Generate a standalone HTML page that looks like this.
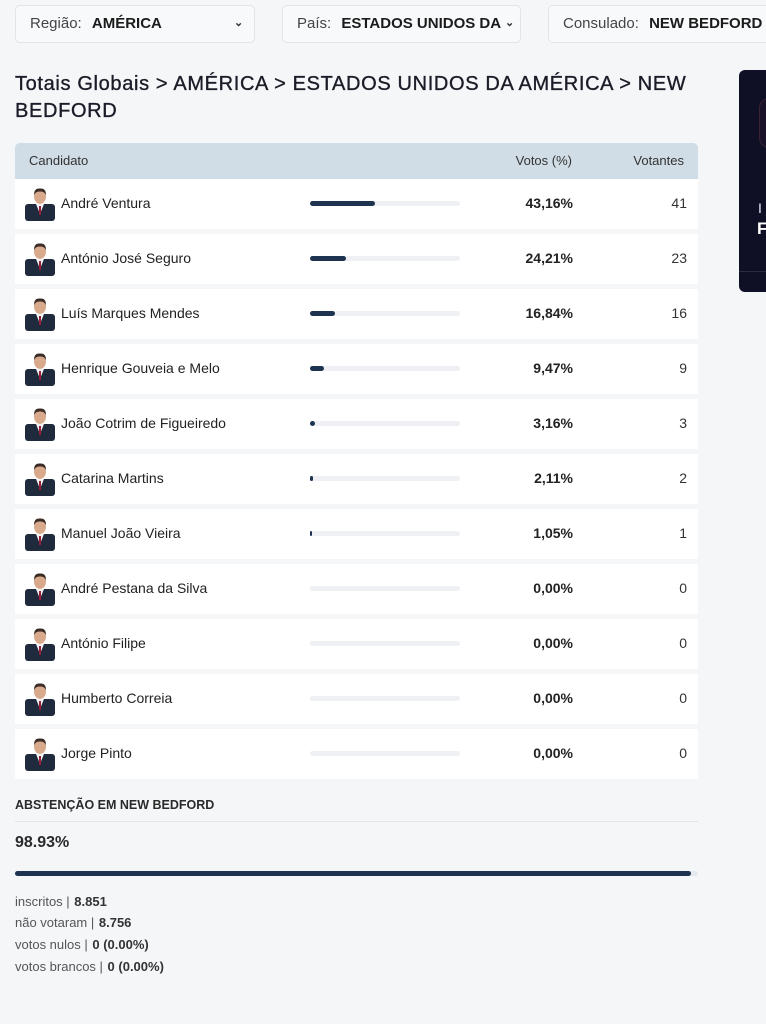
<!DOCTYPE html>
<html><head><meta charset="utf-8">
<style>
*{margin:0;padding:0;box-sizing:border-box}
html,body{width:766px;height:1024px;overflow:hidden;background:#f4f6f8;font-family:"Liberation Sans",Arial,sans-serif;color:#212529}
.abs{position:absolute}
.dd{position:absolute;top:5px;height:38px;border:1px solid #e1e5ea;border-radius:5px;background:#f8f9fa;font-size:15px;line-height:36px;padding-left:14px;color:#444;white-space:nowrap;overflow:hidden}
.dd b{color:#1b1b1b;margin-left:6px}
.chev{position:absolute;top:-1px;font-size:11px;font-weight:bold;color:#333}
.title{position:absolute;left:15px;font-size:20px;color:#1c1c28;white-space:nowrap;letter-spacing:0.65px;-webkit-text-stroke:0.35px #1c1c28}
.hdr{position:absolute;left:15px;top:143px;width:683px;height:36px;background:#d0dde6;border-radius:5px 5px 0 0;font-size:13px;color:#333;line-height:36px}
.row{position:absolute;left:15px;width:683px;height:50px;background:#fff}
.row .nm{position:absolute;left:46px;top:16px;font-size:14px;color:#222}
.row .trk{position:absolute;left:295px;top:22px;width:150px;height:5px;border-radius:3px;background:#eef0f3}
.row .fill{position:absolute;left:0;top:0;height:5px;border-radius:3px;background:#1d3350}
.row .pc{position:absolute;right:125px;top:16px;font-size:14px;font-weight:bold;color:#222}
.row .vt{position:absolute;right:11px;top:16px;font-size:14px;color:#333}
.row svg{position:absolute;left:10px;top:8px}
.st{position:absolute;left:15px;font-size:13px;color:#555}
.st b{color:#333;margin-left:1px}
</style></head><body>

<div class="dd" style="left:15px;width:240px">Região: <b>AMÉRICA</b><span class="chev" style="left:218px">&#8964;</span></div>
<div class="dd" style="left:282px;width:239px">País: <b>ESTADOS UNIDOS DA</b><span class="chev" style="left:222px">&#8964;</span></div>
<div class="dd" style="left:548px;width:240px">Consulado: <b>NEW BEDFORD</b></div>

<div class="title" style="top:73px">Totais Globais &gt; AMÉRICA &gt; ESTADOS UNIDOS DA AMÉRICA &gt; NEW</div>
<div class="title" style="top:100px">BEDFORD</div>

<div class="abs" style="left:739px;top:70px;width:40px;height:222px;background:#0f1025;border-radius:6px;overflow:hidden">
  <div class="abs" style="left:20px;top:28px;width:30px;height:50px;border:1px solid #3a2233;border-radius:10px;background:#1a1228"></div>
  <div class="abs" style="left:19px;top:130px;font-size:14px;color:#e8e8f0">I</div>
  <div class="abs" style="left:18px;top:149px;font-size:17px;font-weight:bold;color:#fff">F</div>
  <div class="abs" style="left:0;top:201px;width:40px;height:1px;background:#2a2c45"></div>
</div>

<div class="hdr"><span style="position:absolute;left:14px">Candidato</span><span style="position:absolute;right:126px">Votos (%)</span><span style="position:absolute;right:14px">Votantes</span></div>

<svg width="0" height="0" style="position:absolute">
<defs>
<symbol id="av" viewBox="0 0 30 34">
<rect x="0" y="17" width="30" height="17" rx="3" fill="#1f2a3d"/>
<path d="M11 17 L15 27 L19 17 Z" fill="#f2f2f2"/>
<rect x="14" y="19" width="2" height="9" fill="#9a1f3a"/>
<ellipse cx="15" cy="9.5" rx="6" ry="7.5" fill="#d9a98c"/>
<path d="M9 8 Q9 1 15 1.5 Q21 1 21 8 Q19 4 15 4.5 Q11 4 9 8Z" fill="#3a2c24"/>
</symbol>
</defs></svg>

<div class="row" style="top:179px"><svg width="30" height="34"><use href="#av"/></svg><span class="nm">André Ventura</span><div class="trk"><div class="fill" style="width:65px"></div></div><span class="pc">43,16%</span><span class="vt">41</span></div>
<div class="row" style="top:234px"><svg width="30" height="34"><use href="#av"/></svg><span class="nm">António José Seguro</span><div class="trk"><div class="fill" style="width:36px"></div></div><span class="pc">24,21%</span><span class="vt">23</span></div>
<div class="row" style="top:289px"><svg width="30" height="34"><use href="#av"/></svg><span class="nm">Luís Marques Mendes</span><div class="trk"><div class="fill" style="width:25px"></div></div><span class="pc">16,84%</span><span class="vt">16</span></div>
<div class="row" style="top:344px"><svg width="30" height="34"><use href="#av"/></svg><span class="nm">Henrique Gouveia e Melo</span><div class="trk"><div class="fill" style="width:14px"></div></div><span class="pc">9,47%</span><span class="vt">9</span></div>
<div class="row" style="top:399px"><svg width="30" height="34"><use href="#av"/></svg><span class="nm">João Cotrim de Figueiredo</span><div class="trk"><div class="fill" style="width:5px"></div></div><span class="pc">3,16%</span><span class="vt">3</span></div>
<div class="row" style="top:454px"><svg width="30" height="34"><use href="#av"/></svg><span class="nm">Catarina Martins</span><div class="trk"><div class="fill" style="width:3px"></div></div><span class="pc">2,11%</span><span class="vt">2</span></div>
<div class="row" style="top:509px"><svg width="30" height="34"><use href="#av"/></svg><span class="nm">Manuel João Vieira</span><div class="trk"><div class="fill" style="width:2px"></div></div><span class="pc">1,05%</span><span class="vt">1</span></div>
<div class="row" style="top:564px"><svg width="30" height="34"><use href="#av"/></svg><span class="nm">André Pestana da Silva</span><div class="trk"></div><span class="pc">0,00%</span><span class="vt">0</span></div>
<div class="row" style="top:619px"><svg width="30" height="34"><use href="#av"/></svg><span class="nm">António Filipe</span><div class="trk"></div><span class="pc">0,00%</span><span class="vt">0</span></div>
<div class="row" style="top:674px"><svg width="30" height="34"><use href="#av"/></svg><span class="nm">Humberto Correia</span><div class="trk"></div><span class="pc">0,00%</span><span class="vt">0</span></div>
<div class="row" style="top:729px"><svg width="30" height="34"><use href="#av"/></svg><span class="nm">Jorge Pinto</span><div class="trk"></div><span class="pc">0,00%</span><span class="vt">0</span></div>

<div class="abs" style="left:15px;top:798px;font-size:12.5px;font-weight:bold;color:#2a2a2a">ABSTENÇÃO EM NEW BEDFORD</div>
<div class="abs" style="left:15px;top:821px;width:683px;height:1px;background:#e0e6ec"></div>
<div class="abs" style="left:15px;top:834px;font-size:16px;font-weight:bold;color:#2a2a2a">98.93%</div>
<div class="abs" style="left:15px;top:871px;width:683px;height:5px;border-radius:3px;background:#e4e9ef"></div>
<div class="abs" style="left:15px;top:871px;width:676px;height:5px;border-radius:3px;background:#1d3350"></div>

<div class="st" style="top:894px">inscritos | <b>8.851</b></div>
<div class="st" style="top:915px">não votaram | <b>8.756</b></div>
<div class="st" style="top:937px">votos nulos | <b>0 (0.00%)</b></div>
<div class="st" style="top:959px">votos brancos | <b>0 (0.00%)</b></div>

</body></html>
